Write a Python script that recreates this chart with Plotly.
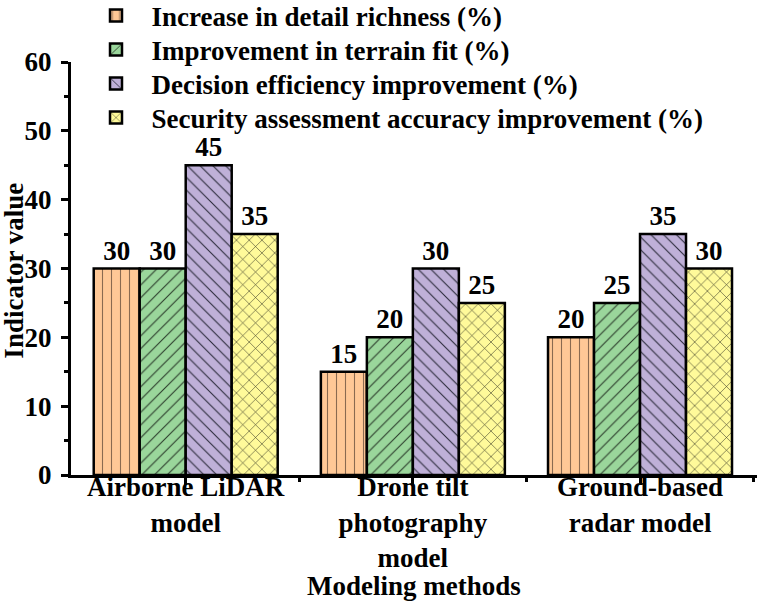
import plotly.graph_objects as go

categories = ["Airborne LiDAR<br>model", "Drone tilt<br>photography<br>model", "Ground-based<br>radar model"]
series_names = [
    "Increase in detail richness (%)",
    "Improvement in terrain fit (%)",
    "Decision efficiency improvement (%)",
    "Security assessment accuracy improvement (%)",
]
detail_richness = [30, 15, 20]
terrain_fit = [30, 20, 25]
decision_efficiency = [45, 30, 35]
security_accuracy = [35, 25, 30]

values = [detail_richness, terrain_fit, decision_efficiency, security_accuracy]
colors = ["#FFC896", "#9AD69B", "#BFB0D8", "#FFFA9A"]
patterns = ["|", "/", "\\", "x"]
pattern_fg = ["#8a6a50", "#2a3a2a", "#2a2a3a", "#333322"]
legend_ids = ["legend", "legend2", "legend3", "legend4"]
legend_rows_px = [16, 50, 84, 118]

FONT = "Liberation Serif, Times New Roman, serif"
FS = 27
W, H = 757, 601
xpos = list(range(len(categories)))

fig = go.Figure()
for name, vals, col, pat, fg, lg in zip(series_names, values, colors, patterns, pattern_fg, legend_ids):
    fig.add_trace(go.Bar(
        x=xpos, y=vals, name=name, legend=lg,
        text=[str(v) for v in vals], textposition="outside",
        textfont=dict(family=FONT, size=FS, color="black", weight="bold"),
        cliponaxis=False,
        marker=dict(color=col, line=dict(color="black", width=2.5),
                    pattern=dict(shape=pat, fgcolor=fg, bgcolor=col, size=9, solidity=0.12, fillmode="replace")),
    ))

title_font = dict(family=FONT, size=FS, color="black", weight="bold")
fig.add_annotation(text="Modeling methods", xref="paper", yref="paper",
                   x=0.5, y=-0.2695, xanchor="center", yanchor="middle", showarrow=False,
                   font=title_font)
fig.add_annotation(text="Indicator value", xref="paper", yref="paper",
                   x=-0.083, y=0.495, xanchor="center", yanchor="middle", showarrow=False,
                   textangle=-90, font=title_font)

legend_layout = {}
for lg, ypx in zip(legend_ids, legend_rows_px):
    legend_layout[lg] = dict(x=80.5 / W, y=1 - ypx / H, xref="container", yref="container",
                             xanchor="left", yanchor="middle",
                             bgcolor="rgba(0,0,0,0)", font=dict(size=FS), itemwidth=61)

fig.update_layout(
    width=W, height=H,
    margin=dict(l=71, r=0, t=62, b=126, autoexpand=False),
    paper_bgcolor="white", plot_bgcolor="white",
    font=dict(family=FONT, size=FS, color="black", weight="bold"),
    barmode="group", bargap=0.19, bargroupgap=0,
    showlegend=True,
    xaxis=dict(
        range=[-0.505, 2.515], tickmode="array", tickvals=xpos, ticktext=categories,
        showline=True, linecolor="black", linewidth=3, showgrid=False, zeroline=False,
        ticks="outside", ticklen=7, tickwidth=2.5, tickcolor="black",
        minor=dict(tickmode="array", tickvals=[0.5, 1.5, 2.5], ticks="outside", ticklen=4, tickwidth=2.5, tickcolor="black"),
        tickfont=dict(size=FS), automargin=False, ticklabelstandoff=-21,
    ),
    yaxis=dict(
        range=[0, 60], dtick=10, tick0=0,
        showline=True, linecolor="black", linewidth=3, showgrid=False, zeroline=False,
        ticks="outside", ticklen=7, tickwidth=2.5, tickcolor="black",
        minor=dict(dtick=5, tick0=0, ticks="outside", ticklen=4, tickwidth=2.5, tickcolor="black"),
        tickfont=dict(size=FS), automargin=False, ticklabelstandoff=4,
    ),
    **legend_layout,
)

fig.write_html("out.html", config={"displayModeBar": False},
               post_script="document.body.style.margin='0px';")
